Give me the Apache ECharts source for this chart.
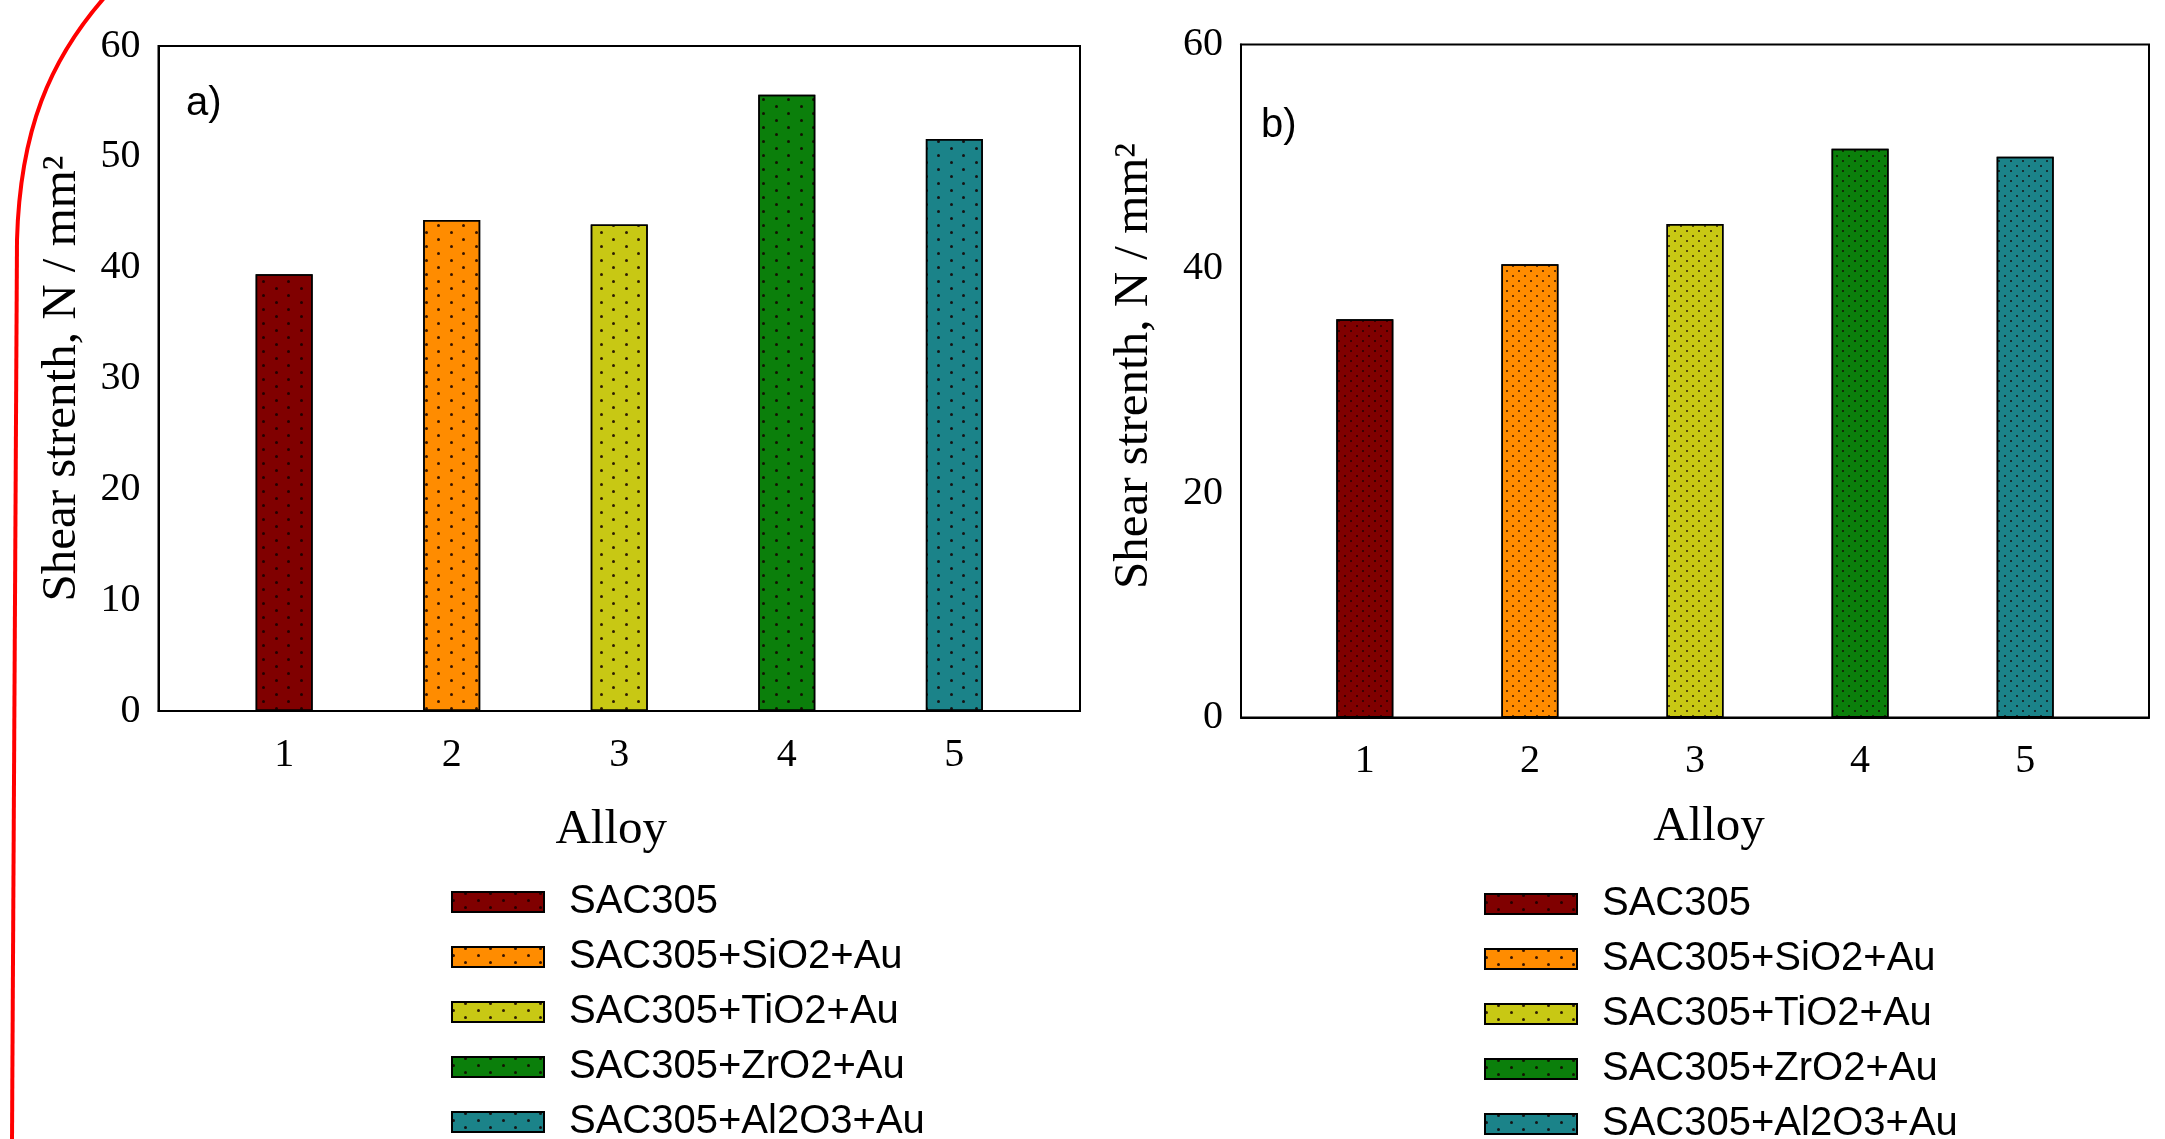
<!DOCTYPE html>
<html>
<head>
<meta charset="utf-8">
<script src="https://cdn.jsdelivr.net/npm/echarts@6/dist/echarts.min.js"></script>
<style>
html,body{margin:0;padding:0;background:#fff;}
#c{width:2165px;height:1139px;}
</style>
</head>
<body>
<div id="c"></div>
<script>
// ---- data ----
const alloys = [1, 2, 3, 4, 5];
const seriesNames = ['SAC305', 'SAC305+SiO2+Au', 'SAC305+TiO2+Au', 'SAC305+ZrO2+Au', 'SAC305+Al2O3+Au'];
const shearA = [39.4, 44.3, 43.9, 55.6, 51.6];
const shearB = [35.5, 40.4, 44.0, 50.7, 50.0];
const yTicksA = [0, 10, 20, 30, 40, 50, 60];
const yTicksB = [0, 20, 40, 60];
const panelLabels = ['a)', 'b)'];
const colors = ['#800000', '#ff8c00', '#c8c814', '#0b7f0b', '#1b8389'];

const serif = '"Liberation Serif", "Times New Roman", serif';
const sans = '"Liberation Sans", Arial, sans-serif';

const decalA = {
  symbol: 'circle', symbolSize: 1, color: 'rgba(20,0,0,0.85)',
  dashArrayX: [[2.2, 21.4], [0, 11.8, 2.2, 9.6]],
  dashArrayY: [2.2, 3.7]
};
const decalB = {
  symbol: 'circle', symbolSize: 1, color: 'rgba(20,0,0,0.85)',
  dashArrayX: [[2, 10], [0, 6, 2, 4]],
  dashArrayY: [2, 2.2]
};

function xAxis(gridIndex, nameGap, labelMargin, namePadding) {
  return {
    gridIndex, type: 'value', min: 0.25, max: 5.75, interval: 0.25,
    axisLine: {show: true, lineStyle: {color: '#000', width: 2}},
    axisTick: {show: false}, splitLine: {show: false},
    axisLabel: {
      margin: labelMargin, fontFamily: serif, fontSize: 40, color: '#000',
      formatter: v => (alloys.indexOf(v) >= 0 ? String(v) : '')
    },
    name: 'Alloy', nameLocation: 'middle', nameGap,
    nameTextStyle: {fontFamily: serif, fontSize: 49, color: '#000', padding: namePadding}
  };
}
function yAxis(gridIndex, ticks, nameGap, padding) {
  const step = ticks[1] - ticks[0];
  return {
    gridIndex, type: 'value', min: ticks[0], max: ticks[ticks.length - 1], interval: step,
    axisLine: {show: true, lineStyle: {color: '#000', width: 2}},
    axisTick: {show: false}, splitLine: {show: false},
    axisLabel: {margin: 18, fontFamily: serif, fontSize: 40, color: '#000'},
    name: 'Shear strenth, N / mm²', nameLocation: 'middle', nameGap,
    nameTextStyle: {fontFamily: serif, fontSize: 49, color: '#000', padding}
  };
}

const series = [];
[shearA, shearB].forEach((vals, gi) => {
  seriesNames.forEach((nm, i) => {
    series.push({
      type: 'bar', name: nm, xAxisIndex: gi, yAxisIndex: gi,
      barWidth: 57, barGap: '-100%',
      data: [[alloys[i], vals[i]]],
      itemStyle: {color: colors[i], borderColor: '#000', borderWidth: 1.5,
        decal: gi === 0 ? decalA : decalB},
      emphasis: {disabled: true}
    });
  });
});

function legend(left, top) {
  return {
    data: seriesNames, orient: 'vertical', left, top, padding: 0,
    height: 300,
    icon: 'rect', itemWidth: 92, itemHeight: 20, itemGap: 15,
    itemStyle: {borderWidth: 2, borderColor: '#000'},
    textStyle: {fontFamily: sans, fontSize: 40, color: '#000', padding: [0, 0, 0, 20]}
  };
}

const option = {
  animation: false,
  backgroundColor: '#fff',
  grid: [
    {left: 158.5, top: 46, width: 921.5, height: 665, show: true, borderColor: '#000', borderWidth: 2},
    {left: 1241, top: 44.5, width: 908, height: 673, show: true, borderColor: '#000', borderWidth: 2}
  ],
  xAxis: [xAxis(0, 95, 24, [0, 16, 0, 0]), xAxis(1, 85, 24, [0, 0, 0, 28])],
  yAxis: [yAxis(0, yTicksA, 72, [0, 0, 0, 0]), yAxis(1, yTicksB, 82, [0, 0, 0, 30])],
  legend: [legend(451, 882), legend(1484, 884)],
  series,
  graphic: [
    {type: 'text', left: 186, top: 84, style: {text: panelLabels[0], font: '40px ' + sans, fill: '#000'}},
    {type: 'text', left: 1261, top: 106, style: {text: panelLabels[1], font: '40px ' + sans, fill: '#000'}},
    {type: 'bezierCurve', silent: true, z: 100,
      shape: {x1: 104, y1: -2, cpx1: 50, cpy1: 60, cpx2: 20, cpy2: 130, x2: 17, y2: 240},
      style: {fill: null, stroke: '#ff0000', lineWidth: 4}},
    {type: 'line', silent: true, z: 100,
      shape: {x1: 17, y1: 240, x2: 12, y2: 1141},
      style: {stroke: '#ff0000', lineWidth: 4}}
  ]
};

const chart = echarts.init(document.getElementById('c'));
chart.setOption(option);
</script>
</body>
</html>
